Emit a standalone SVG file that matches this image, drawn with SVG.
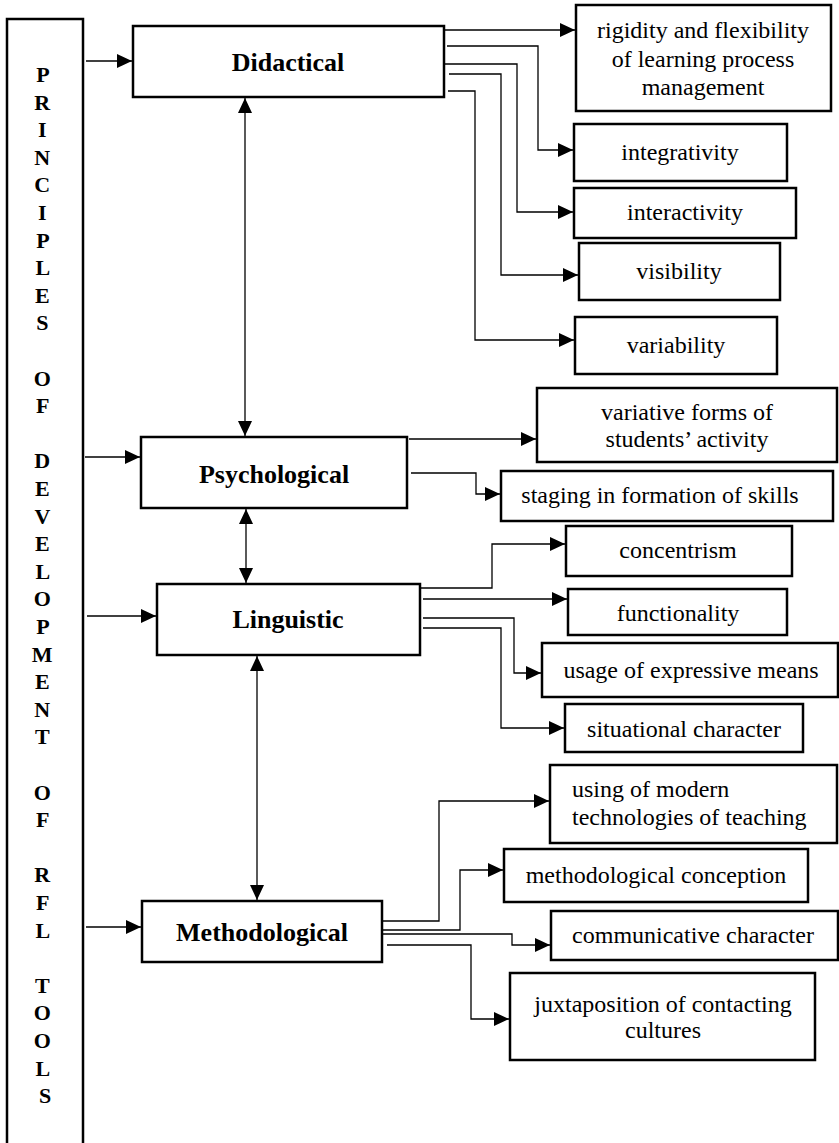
<svg xmlns="http://www.w3.org/2000/svg" width="839" height="1143" viewBox="0 0 839 1143">
<style>
.box{fill:#fff;stroke:#000;stroke-width:2.5}
.col{fill:none;stroke:#000;stroke-width:2.5}
.c{fill:none;stroke:#000;stroke-width:1.3}
.lbl{font-family:"Liberation Serif","Times New Roman",serif;font-weight:bold;font-size:26px;text-anchor:middle;fill:#000}
.t{font-family:"Liberation Serif","Times New Roman",serif;font-size:24px;text-anchor:middle;fill:#000}
.tl{font-family:"Liberation Serif","Times New Roman",serif;font-size:24px;fill:#000}
.v{font-family:"Liberation Serif","Times New Roman",serif;font-weight:bold;font-size:22px;text-anchor:middle;fill:#000}
</style>
<defs>
<marker id="ah" markerUnits="userSpaceOnUse" markerWidth="16" markerHeight="16" refX="15" refY="7" orient="auto-start-reverse">
<path d="M0,0 L15,7 L0,14 z" fill="#000"/>
</marker>
</defs>
<rect width="839" height="1143" fill="#fff"/>

<g id="principles">
<rect class="col" x="7" y="19" width="76" height="1140"/>
<text class="v">
<tspan x="45" y="82">P</tspan>
<tspan x="45" y="109.6">R</tspan>
<tspan x="45" y="137.2">I</tspan>
<tspan x="45" y="164.8">N</tspan>
<tspan x="45" y="192.4">C</tspan>
<tspan x="45" y="220">I</tspan>
<tspan x="45" y="247.6">P</tspan>
<tspan x="45" y="275.2">L</tspan>
<tspan x="45" y="302.8">E</tspan>
<tspan x="45" y="330.4">S</tspan>
<tspan x="45" y="385.6">O</tspan>
<tspan x="45" y="413.2">F</tspan>
<tspan x="45" y="468.4">D</tspan>
<tspan x="45" y="496">E</tspan>
<tspan x="45" y="523.6">V</tspan>
<tspan x="45" y="551.2">E</tspan>
<tspan x="45" y="578.8">L</tspan>
<tspan x="45" y="606.4">O</tspan>
<tspan x="45" y="634">P</tspan>
<tspan x="45" y="661.6">M</tspan>
<tspan x="45" y="689.2">E</tspan>
<tspan x="45" y="716.8">N</tspan>
<tspan x="45" y="744.4">T</tspan>
<tspan x="45" y="799.6">O</tspan>
<tspan x="45" y="827.2">F</tspan>
<tspan x="45" y="882.4">R</tspan>
<tspan x="45" y="910">F</tspan>
<tspan x="45" y="937.6">L</tspan>
<tspan x="45" y="992.8">T</tspan>
<tspan x="45" y="1020.4">O</tspan>
<tspan x="45" y="1048">O</tspan>
<tspan x="45" y="1075.6">L</tspan>
<tspan x="45" y="1103.2">S</tspan>
</text>
</g>

<g id="didactical"><rect class="box" x="133" y="26" width="311" height="71"/><text class="lbl" x="288" y="71">Didactical</text></g>
<g id="psychological"><rect class="box" x="141" y="437" width="266" height="71"/><text class="lbl" x="274" y="483">Psychological</text></g>
<g id="linguistic"><rect class="box" x="157" y="584" width="263" height="71"/><text class="lbl" x="288" y="628">Linguistic</text></g>
<g id="methodological"><rect class="box" x="142" y="901" width="240" height="61"/><text class="lbl" x="262" y="941">Methodological</text></g>

<g id="rigidity"><rect class="box" x="576" y="5" width="255" height="106"/><text class="t"><tspan x="703" y="38">rigidity and flexibility</tspan><tspan x="703" y="67">of learning process</tspan><tspan x="703" y="95">management</tspan></text></g>
<g id="integrativity"><rect class="box" x="574" y="124" width="213" height="57"/><text class="t" x="680" y="160">integrativity</text></g>
<g id="interactivity"><rect class="box" x="574" y="188" width="222" height="50"/><text class="t" x="685" y="220">interactivity</text></g>
<g id="visibility"><rect class="box" x="579" y="243" width="201" height="57"/><text class="t" x="679" y="279">visibility</text></g>
<g id="variability"><rect class="box" x="575" y="317" width="202" height="57"/><text class="t" x="676" y="353">variability</text></g>
<g id="variative"><rect class="box" x="537" y="388" width="300" height="74"/><text class="t"><tspan x="687" y="420">variative forms of</tspan><tspan x="687" y="447">students’ activity</tspan></text></g>
<g id="staging"><rect class="box" x="501" y="471" width="332" height="50"/><text class="t" x="660" y="503">staging in formation of skills</text></g>
<g id="concentrism"><rect class="box" x="566" y="526" width="226" height="50"/><text class="t" x="678" y="558">concentrism</text></g>
<g id="functionality"><rect class="box" x="568" y="589" width="219" height="46"/><text class="t" x="678" y="621">functionality</text></g>
<g id="usage"><rect class="box" x="542" y="643" width="296" height="54"/><text class="t" x="691" y="678">usage of expressive means</text></g>
<g id="situational"><rect class="box" x="565" y="704" width="238" height="48"/><text class="t" x="684" y="737">situational character</text></g>
<g id="modern"><rect class="box" x="550" y="765" width="287" height="78"/><text class="tl"><tspan x="572" y="797">using of modern</tspan><tspan x="572" y="825">technologies of teaching</tspan></text></g>
<g id="conception"><rect class="box" x="504" y="849" width="304" height="53"/><text class="t" x="656" y="883">methodological conception</text></g>
<g id="communicative"><rect class="box" x="551" y="911" width="287" height="49"/><text class="t" x="693" y="943">communicative character</text></g>
<g id="juxtaposition"><rect class="box" x="510" y="973" width="305" height="87"/><text class="t"><tspan x="663" y="1012">juxtaposition of contacting</tspan><tspan x="663" y="1038">cultures</tspan></text></g>

<g id="connectors" class="c" marker-end="url(#ah)">
<path class="c" d="M86,61 H132"/>
<path class="c" d="M85,457 H140"/>
<path class="c" d="M87,616 H156"/>
<path class="c" d="M86,927 H141"/>
<path class="c" d="M245,98 V436" marker-start="url(#ah)"/>
<path class="c" d="M246,509 V583" marker-start="url(#ah)"/>
<path class="c" d="M257,656 V900" marker-start="url(#ah)"/>
<path class="c" d="M444,30 H575"/>
<path class="c" d="M447,46 H538 V150 H573"/>
<path class="c" d="M445,64 H517 V212 H573"/>
<path class="c" d="M449,74 H501 V275 H578"/>
<path class="c" d="M448,91 H475 V340 H574"/>
<path class="c" d="M409,439 H536"/>
<path class="c" d="M411,473 H476 V494 H500"/>
<path class="c" d="M420,588 H492 V544 H565"/>
<path class="c" d="M423,599 H567"/>
<path class="c" d="M423,618 H514 V673 H541"/>
<path class="c" d="M423,628 H501 V728 H564"/>
<path class="c" d="M382,921 H439 V801 H549"/>
<path class="c" d="M382,930 H460 V870 H503"/>
<path class="c" d="M383,934 H512 V945 H550"/>
<path class="c" d="M387,945 H471 V1019 H509"/>
</g>
</svg>
